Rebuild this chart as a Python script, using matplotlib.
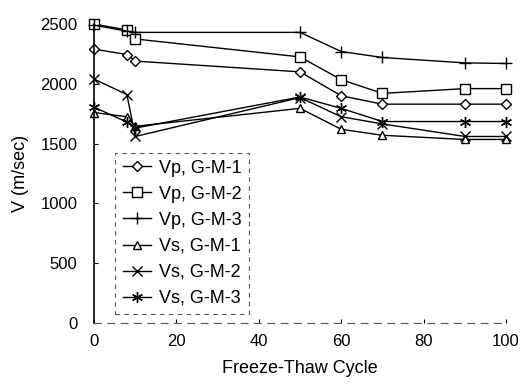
import matplotlib
matplotlib.use('Agg')
import matplotlib.pyplot as plt

plt.rcParams['font.family'] = ['Liberation Sans', 'DejaVu Sans']

# 동결-융해 사이클에 따른 탄성파 속도
cycles = [0, 8, 10, 50, 60, 70, 90, 100]
vp_gm1 = [2290, 2245, 2190, 2100, 1900, 1830, 1830, 1830]
vp_gm2 = [2500, 2450, 2375, 2225, 2035, 1920, 1960, 1960]
vp_gm3 = [2490, 2440, 2430, 2430, 2270, 2220, 2175, 2170]
vs_gm1 = [1760, 1725, 1645, 1795, 1620, 1570, 1535, 1535]
vs_gm2 = [2040, 1910, 1560, 1885, 1725, 1665, 1560, 1560]
vs_gm3 = [1805, 1680, 1630, 1890, 1795, 1685, 1685, 1685]

series = [
    (vp_gm1, 'D', 5, 'Vp, G-M-1'),
    (vp_gm2, 's', 7, 'Vp, G-M-2'),
    (vp_gm3, '+', 9, 'Vp, G-M-3'),
    (vs_gm1, '^', 6, 'Vs, G-M-1'),
    (vs_gm2, 'x', 7, 'Vs, G-M-2'),
    (vs_gm3, (6, 2, 0), 8, 'Vs, G-M-3'),
]

fig = plt.figure(figsize=(5.31, 3.87), dpi=100)
ax = fig.add_axes([0.177, 0.165, 0.776, 0.773])

for vals, mk, ms, lab in series:
    ax.plot(cycles, vals, color='black', lw=1.0, marker=mk, markersize=ms,
            markerfacecolor='white', markeredgecolor='black', markeredgewidth=1.0,
            label=lab, clip_on=False)

ax.set_xlim(0, 100)
ax.set_ylim(0, 2500)
ax.set_xticks([0, 20, 40, 60, 80, 100])
ax.set_yticks([0, 500, 1000, 1500, 2000, 2500])
ax.tick_params(direction='in', length=3, labelsize=12, width=0.8)
ax.tick_params(axis='y', pad=12)
ax.tick_params(axis='x', pad=8)
ax.spines['top'].set_visible(False)
ax.spines['right'].set_visible(False)
ax.spines['bottom'].set_linestyle((0, (6, 6)))
ax.spines['bottom'].set_color('#555555')
ax.spines['left'].set_linewidth(1.2)
ax.set_xlabel('Freeze-Thaw Cycle', fontsize=13, labelpad=8)
ax.set_ylabel('V (m/sec)', fontsize=13, labelpad=8)

leg = ax.legend(loc='lower left', bbox_to_anchor=(0.03, 0.0), fontsize=13,
                handlelength=1.6, handletextpad=0.4, labelspacing=0.5,
                borderpad=0.4, fancybox=False, framealpha=1.0, edgecolor='#555555')
leg.get_frame().set_linestyle((0, (4, 4)))
leg.get_frame().set_linewidth(0.8)

fig.savefig('out.png', dpi=100)
